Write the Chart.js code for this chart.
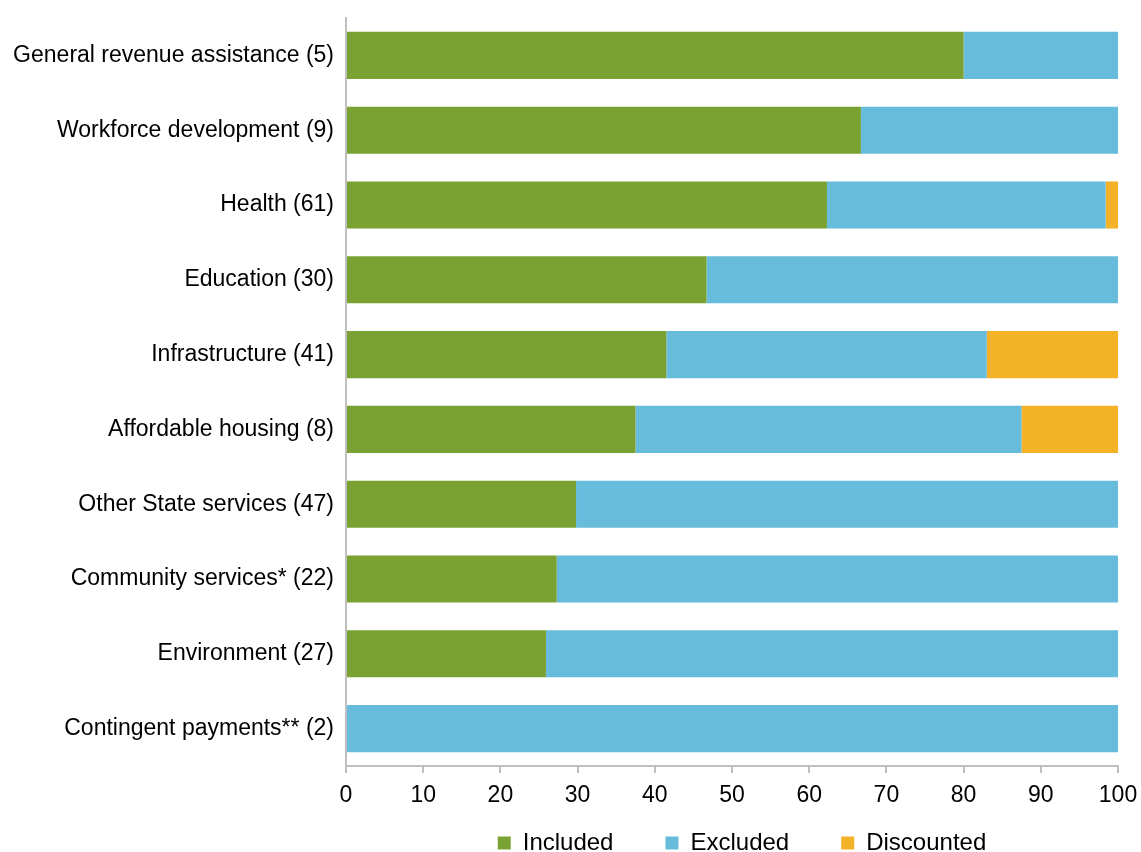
<!DOCTYPE html>
<html>
<head>
<meta charset="utf-8">
<script src="https://cdn.jsdelivr.net/npm/chart.js@4/dist/chart.umd.min.js"></script>
<style>
  html, body { margin: 0; padding: 0; background: #fff; }
  #wrap { width: 1141px; height: 852px; }
</style>
</head>
<body>
<div id="wrap"><canvas id="chart" width="1141" height="852"></canvas></div>
<script>
const categories = [
  'General revenue assistance (5)',
  'Workforce development (9)',
  'Health (61)',
  'Education (30)',
  'Infrastructure (41)',
  'Affordable housing (8)',
  'Other State services (47)',
  'Community services* (22)',
  'Environment (27)',
  'Contingent payments** (2)'
];
// percentage of measures in each category
const included   = [80.0, 66.7, 62.3, 46.7, 41.5, 37.5, 29.8, 27.3, 25.9, 0];
const excluded   = [20.0, 33.3, 36.1, 53.3, 41.5, 50.0, 70.2, 72.7, 74.1, 100];
const discounted = [0,    0,    1.6,  0,    17.0, 12.5, 0,    0,    0,    0];
const xTicks = [0, 10, 20, 30, 40, 50, 60, 70, 80, 90, 100];

const axisGrey = '#bfbfbf';
const font = { family: 'Liberation Sans, Arial, sans-serif', size: 23 };

// legend padding also sets the gap between items, so pull the box back up a bit
const legendNudge = {
  id: 'legendNudge',
  afterLayout(chart) {
    const lg = chart.legend;
    lg.top -= 31;
    lg.bottom -= 31;
    lg.left += 10;
    lg.right += 10;
  }
};

new Chart(document.getElementById('chart').getContext('2d'), {
  type: 'bar',
  data: {
    labels: categories,
    datasets: [
      { label: 'Included', data: included, backgroundColor: '#7aa232' },
      { label: 'Excluded', data: excluded, backgroundColor: '#67bcdb' },
      { label: 'Discounted', data: discounted, backgroundColor: '#f4b228' }
    ]
  },
  plugins: [legendNudge],
  options: {
    indexAxis: 'y',
    responsive: false,
    animation: false,
    layout: { padding: { left: 0, right: 23, top: 18, bottom: -44 } },
    datasets: { bar: { categoryPercentage: 1, barPercentage: 0.63 } },
    plugins: {
      tooltip: { enabled: false },
      legend: {
        position: 'bottom',
        fullSize: false,
        labels: {
          color: '#000',
          font: { family: font.family, size: 24 },
          boxWidth: 13,
          boxHeight: 13,
          padding: 52
        }
      }
    },
    scales: {
      x: {
        stacked: true,
        min: 0,
        max: 100,
        afterBuildTicks: axis => { axis.ticks = xTicks.map(v => ({ value: v })); },
        ticks: { color: '#000', font: font, padding: 9, maxRotation: 0 },
        grid: { display: true, drawOnChartArea: false, drawTicks: true, tickLength: 7, color: axisGrey, lineWidth: 2 },
        border: { display: true, color: axisGrey, width: 2 },
        afterFit: axis => {
          axis.height = 44;
          axis.paddingLeft = 0;
          axis.paddingRight = 0;
        }
      },
      y: {
        stacked: true,
        ticks: { color: '#000', font: font, padding: 2 },
        grid: { display: true, drawOnChartArea: false, drawTicks: true, tickLength: 10, tickColor: 'rgba(0,0,0,0)' },
        border: { display: true, color: axisGrey, width: 2 },
        afterFit: axis => { axis.width = 346; }
      }
    }
  }
});
</script>
</body>
</html>
